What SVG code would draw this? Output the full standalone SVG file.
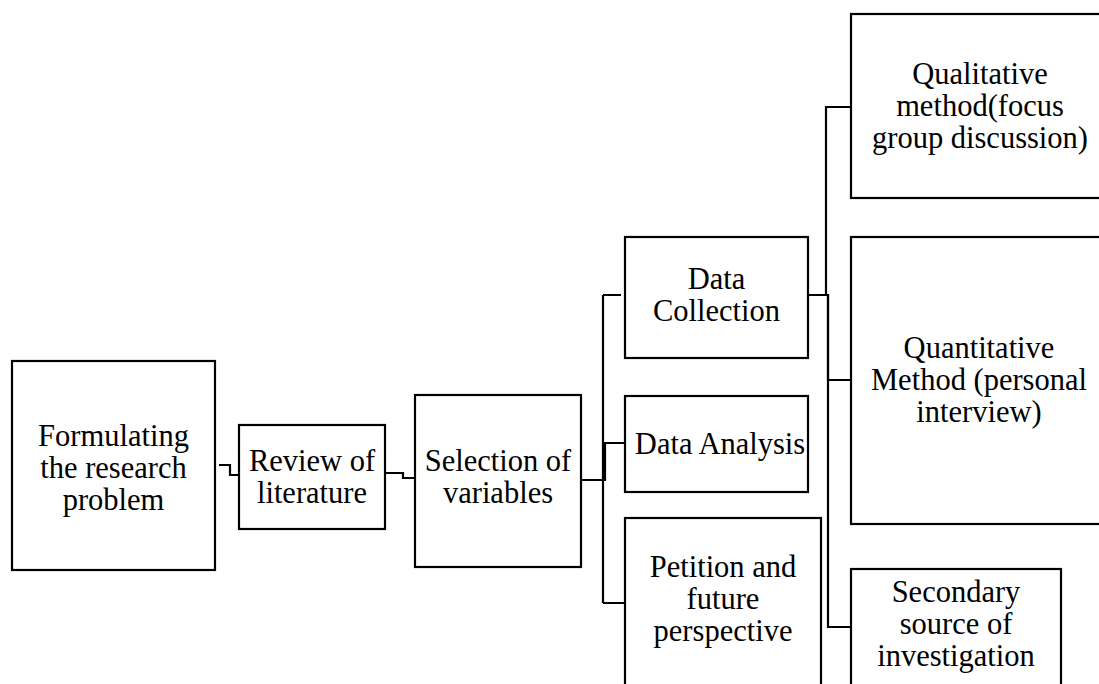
<svg xmlns="http://www.w3.org/2000/svg" width="1099" height="684" viewBox="0 0 1099 684">
<style>
.box{fill:#fff;stroke:#000;stroke-width:2.2}
.t{font-family:"Liberation Serif","Times New Roman",serif;font-size:30.5px;fill:#000;text-anchor:middle}
.c{fill:none;stroke:#000;stroke-width:2.2}
</style>
<rect width="1099" height="684" fill="#fff"/>
<g id="connectors">
<path class="c" d="M219,465 H230 V475 H239"/>
<path class="c" d="M386,473 H403 V478 H415"/>
<path class="c" d="M581,480 H603 M603,295 V603 M603,295 H621 M603,603 H625"/>
<path class="c" d="M581,480 H605 V443 H627"/>
<path class="c" d="M803,295 H826 V107 H851"/>
<path class="c" d="M803,295 H828 V380 H851"/>
<path class="c" d="M808,295 H828 V627 H851"/>
</g>
<g id="formulating">
<rect class="box" x="12" y="361" width="203" height="209"/>
<text class="t" x="113.5" y="446">Formulating</text>
<text class="t" x="113.5" y="478">the research</text>
<text class="t" x="113.5" y="510">problem</text>
</g>
<g id="review">
<rect class="box" x="239" y="425" width="146" height="104"/>
<text class="t" x="312" y="471">Review of</text>
<text class="t" x="312" y="503">literature</text>
</g>
<g id="selection">
<rect class="box" x="415" y="395" width="166" height="172"/>
<text class="t" x="498" y="471">Selection of</text>
<text class="t" x="498" y="503">variables</text>
</g>
<g id="collection">
<rect class="box" x="625" y="237" width="183" height="121"/>
<text class="t" x="716.5" y="289">Data</text>
<text class="t" x="716.5" y="321">Collection</text>
</g>
<g id="analysis">
<rect class="box" x="625" y="396" width="183" height="96"/>
<text class="t" x="720" y="454">Data Analysis</text>
</g>
<g id="petition">
<rect class="box" x="625" y="518" width="196" height="200"/>
<text class="t" x="723" y="577">Petition and</text>
<text class="t" x="723" y="609">future</text>
<text class="t" x="723" y="641">perspective</text>
</g>
<g id="qualitative">
<rect class="box" x="851" y="14" width="280" height="184"/>
<text class="t" x="980" y="84">Qualitative</text>
<text class="t" x="980" y="116">method(focus</text>
<text class="t" x="980" y="148">group discussion)</text>
</g>
<g id="quantitative">
<rect class="box" x="851" y="237" width="280" height="287"/>
<text class="t" x="979" y="358">Quantitative</text>
<text class="t" x="979" y="390">Method (personal</text>
<text class="t" x="979" y="422">interview)</text>
</g>
<g id="secondary">
<rect class="box" x="851" y="569" width="210" height="150"/>
<text class="t" x="956" y="602">Secondary</text>
<text class="t" x="956" y="634">source of</text>
<text class="t" x="956" y="666">investigation</text>
</g>
</svg>
